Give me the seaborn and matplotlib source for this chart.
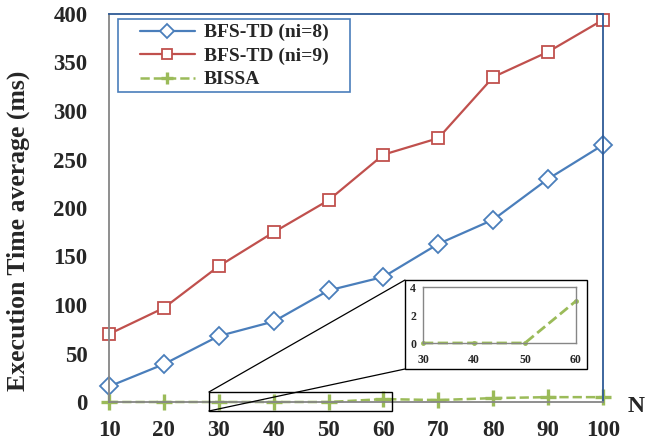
import matplotlib
matplotlib.use("Agg")
import matplotlib.pyplot as plt
import seaborn as sns
import pandas as pd
from matplotlib.patches import Rectangle, ConnectionPatch

sns.set_theme(style="white")
plt.rcParams['font.family'] = ['Liberation Serif', 'DejaVu Serif']
plt.rcParams['font.weight'] = 'bold'

x_vals = [10, 20, 30, 40, 50, 60, 70, 80, 90, 100]
bfs8 = [16, 39, 68, 83, 115, 129, 163, 188, 230, 265]
bfs9 = [70, 97, 140, 175, 208, 255, 272, 335, 361, 394]
bissa = [0, 0, 0, 0, 0, 3, 2, 4, 5, 5]
labels = ["BFS-TD (ni=8)", "BFS-TD (ni=9)", "BISSA"]
inset_x = [30, 40, 50, 60]
inset_y = [0, 0, 0, 3]

blue = "#4A7EBB"
red = "#C0504D"
green = "#9BBB59"

W, H = 646, 442
fig = plt.figure(figsize=(6.46, 4.42), dpi=100)
ax = fig.add_axes([109/W, 1-402/H, (603-109)/W, (402-14)/H])

df = pd.DataFrame({"x": x_vals, "a": bfs8, "b": bfs9, "c": bissa})
sns.lineplot(data=df, x="x", y="a", ax=ax, color=blue, lw=1.6, marker="D",
             markersize=9.5, markerfacecolor="white", markeredgecolor=blue,
             markeredgewidth=1.3, label=labels[0], clip_on=False)
sns.lineplot(data=df, x="x", y="b", ax=ax, color=red, lw=1.6, marker="s",
             markersize=9, markerfacecolor="white", markeredgecolor=red,
             markeredgewidth=1.3, label=labels[1], clip_on=False)
sns.lineplot(data=df, x="x", y="c", ax=ax, color=green, lw=1.8, marker="+",
             markersize=11, markeredgewidth=2.4, markeredgecolor=green,
             linestyle="--", label=labels[2], clip_on=False)

ax.set_xlim(10, 100)
ax.set_ylim(0, 400)
ax.set_xticks(x_vals)
ax.set_yticks(range(0, 401, 50))
ax.set_xlabel("")
ax.set_ylabel("Execution Time average (ms)", fontsize=18.5, fontweight="bold", va="center")
ax.yaxis.set_label_coords((18-109)/494, 0.44)
ax.tick_params(axis="x", length=0, pad=13, labelsize=16.5)
ax.tick_params(axis="y", pad=11, length=4.5, color="#868686", width=1,
               direction="out", labelsize=16.5)
for lab in ax.get_xticklabels() + ax.get_yticklabels():
    lab.set_fontweight("bold")
for s in ["left", "bottom"]:
    ax.spines[s].set_color("#868686")
    ax.spines[s].set_linewidth(1.3)
for s in ["top", "right"]:
    ax.spines[s].set_color("#2E5A96")
    ax.spines[s].set_linewidth(1.3)

leg = ax.legend(loc="upper left", bbox_to_anchor=(130/W, 1-14/H),
                bbox_transform=fig.transFigure, frameon=False,
                prop={"weight": "bold", "size": 14}, markerscale=0.75,
                handlelength=2.85, borderpad=0, labelspacing=0.3, handletextpad=0.45)
legbox = Rectangle((118/W, 1-92/H), (350-118)/W, (92-19)/H, transform=fig.transFigure,
                   fill=False, edgecolor=blue, lw=1.2, zorder=6)
fig.patches.append(legbox)

fig.text(628/W, 1-406/H, "N", fontsize=17, fontweight="bold", ha="left", va="center")

# zoom rectangle on main axes
rx0, rx1, ry0, ry1 = 28.2, 61.6, -9.3, 10.3
rect = Rectangle((rx0, ry0), rx1-rx0, ry1-ry0, fill=False, edgecolor="black",
                 lw=1.0, clip_on=False, zorder=5)
ax.add_patch(rect)

# inset outer box
bx, by, bw, bh = 405/W, 1-369/H, 182/W, 89/H
box = Rectangle((bx, by), bw, bh, transform=fig.transFigure, facecolor="white",
                edgecolor="black", lw=1.0, zorder=10)
fig.patches.append(box)

for (py, fy) in [(ry1, by+bh), (ry0, by)]:
    cp = ConnectionPatch(xyA=(rx0, py), coordsA=ax.transData,
                         xyB=(bx, fy), coordsB=fig.transFigure,
                         color="black", lw=0.9, zorder=4)
    fig.add_artist(cp)

axin = fig.add_axes([423/W, 1-343/H, (576-423)/W, (343-287)/H], zorder=20)
sns.lineplot(x=inset_x, y=inset_y, ax=axin, color=green, lw=2, linestyle="--",
             marker="o", markersize=3.5, markeredgewidth=0, clip_on=False)
axin.set_xlim(30, 60)
axin.set_ylim(0, 4)
axin.set_xticks(inset_x)
axin.set_yticks([0, 2, 4])
axin.tick_params(axis="x", length=0, pad=8, labelsize=8.5)
axin.tick_params(axis="y", length=3, color="#868686", pad=2, labelsize=8.5)
for lab in axin.get_xticklabels() + axin.get_yticklabels():
    lab.set_fontweight("bold")
for s in axin.spines.values():
    s.set_color("#868686")
    s.set_linewidth(1.0)

fig.savefig("out.png", dpi=100)
